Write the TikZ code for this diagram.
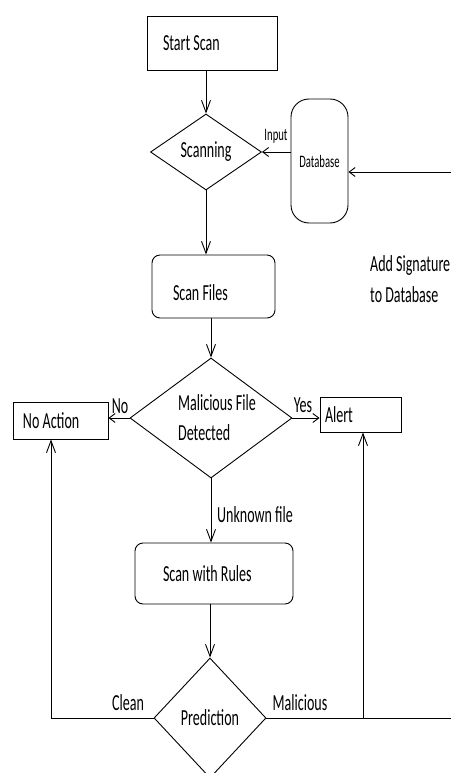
\documentclass[tikz,border=0pt]{standalone}
\usepackage{fontspec}
\setmainfont{Carlito}[FakeStretch=0.61]
\usetikzlibrary{shapes.geometric,arrows.meta}
\begin{document}
\begin{tikzpicture}[x=1pt,y=-1pt,
 every node/.style={font=\fontsize{23}{30}\selectfont, inner sep=0pt},
 small/.style={font=\fontsize{17.5}{21}\selectfont},
 line/.style={draw=black, line width=0.9pt},
 harr/.style={line, -{Straight Barb[length=6pt,width=9pt]}},
 varr/.style={line, -{Straight Barb[length=12pt,width=9pt]}},
 box/.style={draw, line width=0.9pt, rectangle},
 dia/.style={draw, line width=0.9pt, diamond, inner sep=0pt, align=left},
]
\useasboundingbox[fill=white] (0,0) rectangle (451,773);

\node[box, minimum width=130pt, minimum height=54pt, inner xsep=16pt] (start) at (212,43) {\makebox[98pt][l]{Start Scan}};
\node[dia, minimum width=111pt, minimum height=76pt] (scanning) at (206,152) {Scanning};
\node[box, rounded corners=18pt, minimum width=57pt, minimum height=124pt, small] (db) at (319.5,161) {Database};
\node[box, rounded corners=8pt, minimum width=123pt, minimum height=63pt, inner xsep=21pt] (files) at (213.5,286.5) {\makebox[81pt][l]{\raisebox{-6pt}[\height][\depth]{Scan Files}}};
\node[dia, minimum width=162pt, minimum height=120pt, aspect=1.35] (mal) at (211,418) {\hspace*{12pt}Malicious File\\\hspace*{12pt}Detected};
\node[box, minimum width=95pt, minimum height=37pt, inner xsep=10pt] (noaction) at (60.5,420.5) {\makebox[75pt][l]{No Action}};
\node[box, minimum width=81pt, minimum height=35pt, inner xsep=5pt] (alert) at (360.5,414.5) {\makebox[71pt][l]{Alert}};
\node[box, rounded corners=8pt, minimum width=158pt, minimum height=61pt, inner xsep=28pt] (rules) at (214,573.5) {\makebox[102pt][l]{Scan with Rules}};
\node[dia, minimum width=112pt, minimum height=120pt] (pred) at (210,718) {Prediction};

\coordinate (dbin) at (451,172);
\coordinate (cl) at (51,718);
\coordinate (mr) at (451,718);
\coordinate (ma) at (363,718);

\draw[varr] (scanning.north |- start.south) -- (scanning.north);
\draw[varr] (scanning.south) -- (scanning.south |- files.north);
\draw[varr] (mal.north |- files.south) -- (mal.north);
\draw[harr] (db.west |- scanning.east) -- (scanning.east);
\draw[harr] (dbin) -- (db.east |- dbin);
\draw[harr] (mal.west) -- (mal.west -| noaction.east);
\draw[harr] (mal.east) -- (mal.east -| alert.west);
\draw[varr] (mal.south) -- (mal.south |- rules.north);
\draw[varr] (pred.north |- rules.south) -- (pred.north);
\draw[varr] (pred.west) -- (cl) -- (cl |- noaction.south);
\draw[line] (pred.east) -- (mr);
\draw[varr] (ma) -- (ma |- alert.south);

\node[small, anchor=base] (inputlbl) at (276,140) {Input};
\node[anchor=base] (nolbl) at (120,413) {No};
\node[anchor=base] (yeslbl) at (303,412) {Yes};
\node[anchor=base west] (unklbl) at (217,522) {Unknown file};
\node[anchor=base] (cleanlbl) at (128,710) {Clean};
\node[anchor=base] (mallbl) at (300,710) {Malicious};
\node[anchor=west, align=left, font=\fontsize{23}{31}\selectfont] (addsig) at (370,279) {Add Signature\\to Database};
\end{tikzpicture}
\end{document}
